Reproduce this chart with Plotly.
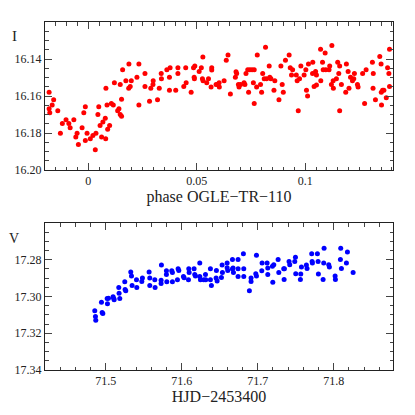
import plotly.graph_objects as go

# ---- Top panel: I magnitude vs phase ----
phase = [-0.0181, -0.0181, -0.0178, -0.0167, -0.0160, -0.0141, -0.0129, -0.0120, -0.0103, -0.0090,
         -0.0084, -0.0067, -0.0058, -0.0052, -0.0046, -0.0029, -0.0021, -0.0014, -0.0014, -0.0006,
         0.0009, 0.0021, 0.0032, 0.0035, 0.0044, 0.0048, 0.0054, 0.0061, 0.0067, 0.0078,
         0.0080, 0.0081, 0.0086, 0.0089, 0.0098, 0.0106, 0.0115, 0.0120, 0.0135, 0.0141,
         0.0147, 0.0147, 0.0153, 0.0153, 0.0158, 0.0173, 0.0186, 0.0187, 0.0193, 0.0198,
         0.0224, 0.0233, 0.0233, 0.0261, 0.0261, 0.0282, 0.0288, 0.0298, 0.0299, 0.0319,
         0.0327, 0.0336, 0.0337, 0.0362, 0.0374, 0.0374, 0.0377, 0.0403, 0.0413, 0.0413,
         0.0440, 0.0449, 0.0451, 0.0474, 0.0485, 0.0491, 0.0488, 0.0489, 0.0511, 0.0521,
         0.0528, 0.0526, 0.0529, 0.0546, 0.0554, 0.0566, 0.0569, 0.0569, 0.0589, 0.0595,
         0.0603, 0.0604, 0.0626, 0.0636, 0.0644, 0.0655, 0.0678, 0.0681, 0.0684, 0.0692,
         0.0695, 0.0702, 0.0718, 0.0722, 0.0727, 0.0735, 0.0739, 0.0745, 0.0755, 0.0761,
         0.0765, 0.0765, 0.0776, 0.0779, 0.0794, 0.0799, 0.0804, 0.0811, 0.0817, 0.0822,
         0.0834, 0.0837, 0.0842, 0.0856, 0.0860, 0.0879, 0.0888, 0.0894, 0.0899, 0.0909,
         0.0926, 0.0931, 0.0937, 0.0942, 0.0959, 0.0963, 0.0968, 0.0974, 0.0980, 0.0995,
         0.1003, 0.1006, 0.1011, 0.1015, 0.1034, 0.1035, 0.1041, 0.1048, 0.1052, 0.1052,
         0.1071, 0.1072, 0.1080, 0.1083, 0.1092, 0.1095, 0.1110, 0.1113, 0.1121, 0.1123,
         0.1129, 0.1130, 0.1144, 0.1150, 0.1155, 0.1159, 0.1159, 0.1167, 0.1187, 0.1190,
         0.1198, 0.1202, 0.1209, 0.1218, 0.1224, 0.1227, 0.1241, 0.1244, 0.1265, 0.1274,
         0.1281, 0.1310, 0.1313, 0.1314, 0.1324, 0.1344, 0.1350, 0.1352, 0.1351, 0.1357,
         0.1363, 0.1374, 0.1380, 0.1386, 0.1389, 0.1389]
mag_I = [16.1580, 16.1669, 16.1691, 16.1649, 16.1620, 16.1680, 16.1802, 16.1749, 16.1729, 16.1749,
         16.1771, 16.1729, 16.1822, 16.1802, 16.1862, 16.1771, 16.1691, 16.1658, 16.1840, 16.1802,
         16.1831, 16.1813, 16.1891, 16.1802, 16.1700, 16.1658, 16.1760, 16.1822, 16.1740, 16.1720,
         16.1831, 16.1558, 16.1649, 16.1780, 16.1760, 16.1640, 16.1649, 16.1529, 16.1680, 16.1669,
         16.1538, 16.1700, 16.1709, 16.1618, 16.1458, 16.1518, 16.1558, 16.1427, 16.1549, 16.1518,
         16.1498, 16.1427, 16.1649, 16.1478, 16.1549, 16.1629, 16.1558, 16.1538, 16.1518, 16.1620,
         16.1558, 16.1478, 16.1507, 16.1458, 16.1498, 16.1569, 16.1447, 16.1569, 16.1478, 16.1447,
         16.1549, 16.1447, 16.1529, 16.1580, 16.1447, 16.1438, 16.1498, 16.1507, 16.1467, 16.1447,
         16.1389, 16.1507, 16.1518, 16.1529, 16.1507, 16.1551, 16.1447, 16.1460, 16.1538, 16.1538,
         16.1529, 16.1551, 16.1518, 16.1407, 16.1378, 16.1589, 16.1498, 16.1469, 16.1478, 16.1538,
         16.1551, 16.1538, 16.1529, 16.1538, 16.1478, 16.1458, 16.1580, 16.1458, 16.1458, 16.1529,
         16.1458, 16.1640, 16.1551, 16.1378, 16.1538, 16.1580, 16.1478, 16.1507, 16.1336, 16.1507,
         16.1438, 16.1498, 16.1507, 16.1569, 16.1518, 16.1620, 16.1438, 16.1538, 16.1580, 16.1407,
         16.1378, 16.1447, 16.1487, 16.1458, 16.1487, 16.1518, 16.1680, 16.1507, 16.1438, 16.1487,
         16.1458, 16.1569, 16.1600, 16.1427, 16.1478, 16.1418, 16.1549, 16.1467, 16.1540, 16.1487,
         16.1347, 16.1518, 16.1418, 16.1458, 16.1367, 16.1458, 16.1458, 16.1438, 16.1538, 16.1327,
         16.1518, 16.1558, 16.1507, 16.1418, 16.1478, 16.1680, 16.1438, 16.1538, 16.1580, 16.1427,
         16.1467, 16.1558, 16.1498, 16.1518, 16.1507, 16.1478, 16.1538, 16.1551, 16.1478, 16.1640,
         16.1458, 16.1418, 16.1558, 16.1478, 16.1620, 16.1387, 16.1427, 16.1649, 16.1580, 16.1569,
         16.1569, 16.1609, 16.1447, 16.1478, 16.1549, 16.1347]

# ---- Bottom panel: V magnitude vs HJD ----
hjd = [71.4855, 71.4864, 71.4868, 71.4943, 71.4952, 71.4961, 71.5018, 71.5022, 71.5035, 71.5096,
       71.5105, 71.5110, 71.5171, 71.5175, 71.5184, 71.5250, 71.5254, 71.5263, 71.5329, 71.5338,
       71.5346, 71.5404, 71.5408, 71.5474, 71.5482, 71.5570, 71.5579, 71.5579, 71.5645, 71.5649,
       71.5732, 71.5728, 71.5728, 71.5798, 71.5798, 71.5803, 71.5868, 71.5877, 71.5877, 71.5952,
       71.5961, 71.5943, 71.6022, 71.6031, 71.6092, 71.6097, 71.6088, 71.6162, 71.6171, 71.6180,
       71.6237, 71.6237, 71.6246, 71.6290, 71.6312, 71.6316, 71.6377, 71.6377, 71.6390, 71.6456,
       71.6452, 71.6465, 71.6522, 71.6531, 71.6535, 71.6597, 71.6597, 71.6605, 71.6667, 71.6667,
       71.6680, 71.6675, 71.6741, 71.6741, 71.6741, 71.6811, 71.6816, 71.6816, 71.6890, 71.6912,
       71.6912, 71.6974, 71.6983, 71.6983, 71.7053, 71.7057, 71.7123, 71.7132, 71.7132, 71.7193,
       71.7211, 71.7198, 71.7268, 71.7277, 71.7342, 71.7351, 71.7347, 71.7412, 71.7421, 71.7487,
       71.7496, 71.7500, 71.7561, 71.7566, 71.7575, 71.7640, 71.7649, 71.7710, 71.7715, 71.7719,
       71.7785, 71.7794, 71.7798, 71.7860, 71.7868, 71.7873, 71.7934, 71.7943, 71.8018, 71.8022,
       71.8088, 71.8092, 71.8101, 71.8167, 71.8180, 71.8255]
mag_V = [17.3078, 17.3109, 17.3129, 17.3031, 17.3087, 17.3093, 17.3011, 17.3040, 17.3009, 17.3002,
         17.3011, 17.3018, 17.2951, 17.2982, 17.3011, 17.2920, 17.2962, 17.2969, 17.2867, 17.2889,
         17.2940, 17.2909, 17.2951, 17.2918, 17.2900, 17.2867, 17.2900, 17.2940, 17.2909, 17.2951,
         17.2829, 17.2911, 17.2929, 17.2860, 17.2880, 17.2920, 17.2860, 17.2869, 17.2920, 17.2849,
         17.2858, 17.2909, 17.2891, 17.2898, 17.2849, 17.2869, 17.2909, 17.2849, 17.2880, 17.2889,
         17.2818, 17.2891, 17.2909, 17.2909, 17.2880, 17.2909, 17.2849, 17.2909, 17.2940, 17.2858,
         17.2900, 17.2916, 17.2896, 17.2829, 17.2869, 17.2818, 17.2844, 17.2858, 17.2798, 17.2851,
         17.2869, 17.2845, 17.2798, 17.2849, 17.2891, 17.2767, 17.2849, 17.2891, 17.2969, 17.2918,
         17.2900, 17.2876, 17.2889, 17.2776, 17.2860, 17.2818, 17.2818, 17.2845, 17.2880, 17.2836,
         17.2827, 17.2922, 17.2798, 17.2869, 17.2849, 17.2849, 17.2907, 17.2809, 17.2827, 17.2809,
         17.2787, 17.2876, 17.2907, 17.2878, 17.2840, 17.2829, 17.2847, 17.2767, 17.2809, 17.2818,
         17.2767, 17.2809, 17.2878, 17.2907, 17.2818, 17.2738, 17.2827, 17.2840, 17.2889, 17.2907,
         17.2798, 17.2738, 17.2847, 17.2818, 17.2758, 17.2869]

top_xlabel = "phase OGLE\u2212TR\u2212110"
bottom_xlabel = "HJD\u22122453400"
top_ylabel = "I"
bottom_ylabel = "V"

FONT = "Liberation Serif"

fig = go.Figure()
fig.add_trace(go.Scatter(x=phase, y=mag_I, mode="markers", xaxis="x", yaxis="y",
                         marker=dict(color="#ff0000", size=5), showlegend=False,
                         hoverinfo="skip"))
fig.add_trace(go.Scatter(x=hjd, y=mag_V, mode="markers", xaxis="x2", yaxis="y2",
                         marker=dict(color="#0000ff", size=5), showlegend=False,
                         hoverinfo="skip"))

def ax(**kw):
    base = dict(showline=True, linecolor="#222222", linewidth=1, mirror="ticks",
                ticks="inside", ticklen=7, tickwidth=1, tickcolor="#444444",
                showgrid=False, zeroline=False, automargin=False,
                tickfont=dict(family=FONT, size=12, color="#222222"))
    base.update(kw)
    return base

fig.update_layout(
    width=407, height=407,
    margin=dict(l=37, r=22, t=14, b=45),
    paper_bgcolor="white", plot_bgcolor="white",
    font=dict(family=FONT, color="#222222"),
    xaxis=ax(domain=[0, 1], anchor="y", range=[-0.02, 0.1405],
             tickvals=[0, 0.05, 0.1], ticktext=["0", "0.05", "0.1"],
             minor=dict(ticks="inside", ticklen=3.5, dtick=0.005, tick0=0,
                        tickcolor="#444444", showgrid=False),
             title=dict(text=top_xlabel, font=dict(family=FONT, size=16, color="#222222"),
                        standoff=2)),
    yaxis=ax(domain=[0.5747, 1], anchor="x", range=[16.20, 16.12],
             tickvals=[16.14, 16.16, 16.18, 16.20],
             ticktext=["16.14", "16.16", "16.18", "16.20"],
             minor=dict(ticks="inside", ticklen=3.5, dtick=0.005, tick0=16.0,
                        tickcolor="#444444", showgrid=False)),
    xaxis2=ax(domain=[0, 1], anchor="y2", range=[71.42, 71.878],
              tickvals=[71.5, 71.6, 71.7, 71.8],
              ticktext=["71.5", "71.6", "71.7", "71.8"],
              minor=dict(ticks="inside", ticklen=3.5, dtick=0.02, tick0=71.0,
                         tickcolor="#444444", showgrid=False),
              title=dict(text=bottom_xlabel, font=dict(family=FONT, size=16, color="#222222"),
                         standoff=2)),
    yaxis2=ax(domain=[0, 0.4224], anchor="x2", range=[17.34, 17.26],
              tickvals=[17.28, 17.30, 17.32, 17.34],
              ticktext=["17.28", "17.30", "17.32", "17.34"],
              minor=dict(ticks="inside", ticklen=3.5, dtick=0.005, tick0=17.0,
                         tickcolor="#444444", showgrid=False)),
    annotations=[
        dict(text=top_ylabel, xref="paper", yref="paper", x=-0.087, y=0.96,
             xanchor="center", yanchor="middle",
             showarrow=False, font=dict(family=FONT, size=15, color="#222222")),
        dict(text=bottom_ylabel, xref="paper", yref="paper", x=-0.0905, y=0.378,
             xanchor="center", yanchor="middle", borderpad=0,
             showarrow=False, font=dict(family=FONT, size=14, color="#222222")),
    ],
)

fig.write_html("out.html")
